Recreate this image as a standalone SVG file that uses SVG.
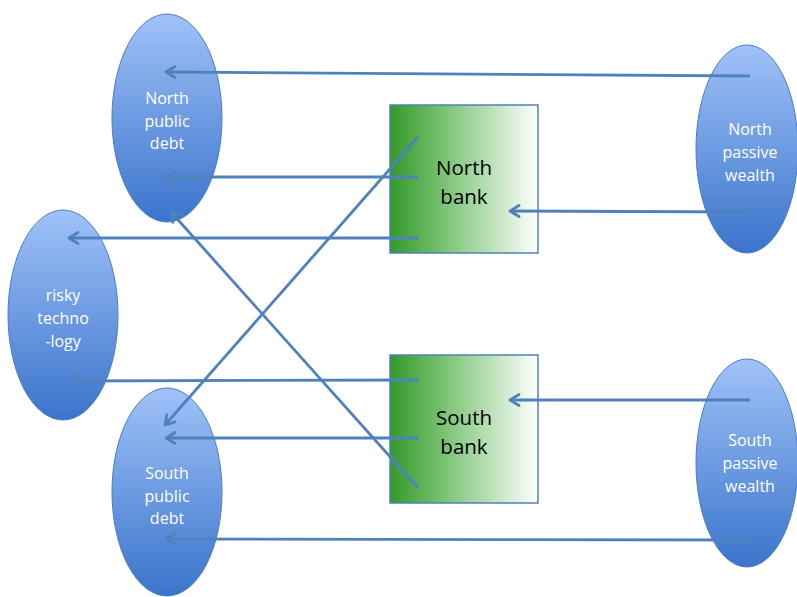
<svg xmlns="http://www.w3.org/2000/svg" width="797" height="597" viewBox="0 0 797 597">
<style>
.node ellipse{fill:url(#blueGrad);stroke:#4a7cc0;stroke-width:1}
.box rect{fill:url(#greenGrad);stroke:#4f81bd;stroke-width:1.5}
.wt{font-family:"Open Sans","Liberation Sans",sans-serif;font-size:16px;fill:#ffffff;text-anchor:middle}
.bt{font-family:"Open Sans","Liberation Sans",sans-serif;font-size:20.5px;fill:#000000;text-anchor:middle}
.conn line{stroke:#4f81bd;stroke-width:2.8;fill:none;marker-end:url(#arr)}
</style>
<defs>
<linearGradient id="blueGrad" x1="0" y1="0" x2="0" y2="1">
<stop offset="0" stop-color="#a0c2f8"/>
<stop offset="1" stop-color="#3a74cb"/>
</linearGradient>
<linearGradient id="greenGrad" x1="0" y1="0" x2="1" y2="0">
<stop offset="0" stop-color="#34992a"/>
<stop offset="0.45" stop-color="#8ccb86"/>
<stop offset="1" stop-color="#ffffff"/>
</linearGradient>
<marker id="arr" viewBox="0 0 14 14" refX="11" refY="7" markerWidth="14" markerHeight="14" markerUnits="userSpaceOnUse" orient="auto">
<path d="M2,1.5 L11,7 L2,12.5" fill="none" stroke="#4f81bd" stroke-width="2.8" stroke-linecap="round" stroke-linejoin="round"/>
</marker>
</defs>
<rect width="797" height="597" fill="#ffffff"/>
<g id="north-public-debt" class="node">
<ellipse cx="167" cy="118" rx="55" ry="104"/>
<text class="wt" x="167" y="104">North</text>
<text class="wt" x="167" y="127">public</text>
<text class="wt" x="167" y="149">debt</text>
</g>
<g id="risky-technology" class="node">
<ellipse cx="63" cy="315" rx="55" ry="105"/>
<text class="wt" x="63" y="301">risky</text>
<text class="wt" x="63" y="324">techno</text>
<text class="wt" x="63" y="347">-logy</text>
</g>
<g id="south-public-debt" class="node">
<ellipse cx="167" cy="492" rx="55" ry="104"/>
<text class="wt" x="167" y="479">South</text>
<text class="wt" x="167" y="502">public</text>
<text class="wt" x="167" y="524">debt</text>
</g>
<g id="north-passive-wealth" class="node">
<ellipse cx="747" cy="149" rx="51" ry="104"/>
<text class="wt" x="750" y="135">North</text>
<text class="wt" x="750" y="158">passive</text>
<text class="wt" x="750" y="181">wealth</text>
</g>
<g id="south-passive-wealth" class="node">
<ellipse cx="747" cy="463" rx="51" ry="104"/>
<text class="wt" x="750" y="446">South</text>
<text class="wt" x="750" y="469">passive</text>
<text class="wt" x="750" y="492">wealth</text>
</g>
<g id="north-bank" class="box">
<rect x="390" y="105" width="148" height="148"/>
<text class="bt" x="464" y="175">North</text>
<text class="bt" x="464" y="204">bank</text>
</g>
<g id="south-bank" class="box">
<rect x="390" y="355" width="148" height="148"/>
<text class="bt" x="464" y="425">South</text>
<text class="bt" x="464" y="454">bank</text>
</g>
<g id="connectors" class="conn">
<line x1="750" y1="76" x2="166" y2="72"/>
<line x1="750" y1="212" x2="510" y2="211"/>
<line x1="418" y1="177" x2="166" y2="177"/>
<line x1="418" y1="238" x2="69" y2="238"/>
<line x1="418" y1="137" x2="165" y2="425"/>
<line x1="418" y1="488" x2="171" y2="212"/>
<line x1="418" y1="380" x2="71" y2="381"/>
<line x1="418" y1="438" x2="166" y2="438"/>
<line x1="750" y1="400" x2="510" y2="400"/>
<line x1="750" y1="540" x2="166" y2="539"/>
</g>
</svg>
